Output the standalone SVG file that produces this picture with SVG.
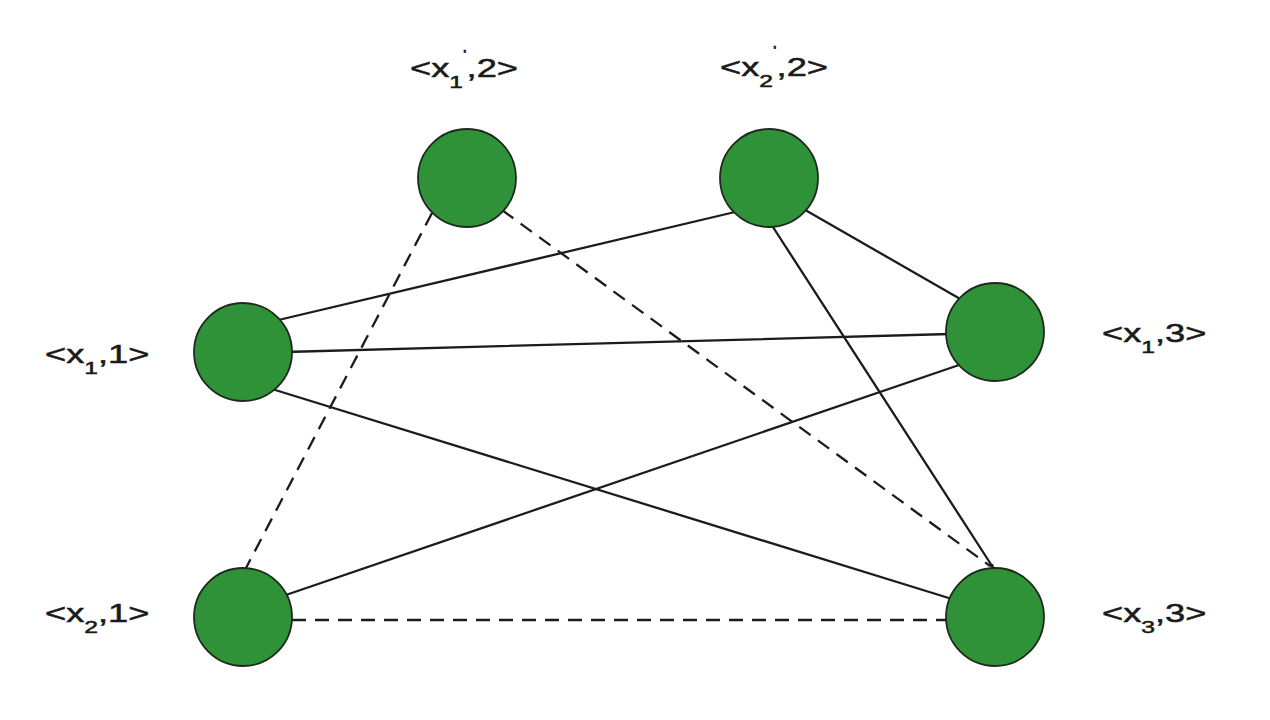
<svg xmlns="http://www.w3.org/2000/svg" width="1270" height="720" viewBox="0 0 1270 720">
  <style>
    .edge { stroke: #1c1c1c; stroke-width: 2.3; fill: none; stroke-linecap: round; }
    .dash { stroke-dasharray: 14 9; stroke-linecap: butt; }
    .node { fill: #2f9138; stroke: #1f2a1f; stroke-width: 1.8; }
    .lbl { font-family: "Liberation Sans", Arial, sans-serif; font-size: 25px; fill: #1a1a1a; stroke: #1a1a1a; stroke-width: 0.5; }
    .sub { font-size: 17px; }
    .pr { font-size: 13px; }
  </style>
  <defs>
    <marker id="arrow" viewBox="0 0 10 10" refX="9" refY="5" markerWidth="6" markerHeight="6" orient="auto" markerUnits="userSpaceOnUse">
      <path d="M0,1 L10,5 L0,9 z" fill="#1c1c1c"/>
    </marker>
  </defs>
  <rect width="1270" height="720" fill="#ffffff"/>
  <g id="connectors">
    <line class="edge" x1="270" y1="322" x2="735" y2="212"/>
    <line class="edge" x1="285" y1="352" x2="950" y2="334"/>
    <line class="edge" x1="272" y1="389" x2="952" y2="599"/>
    <line class="edge" x1="280" y1="597" x2="962" y2="364"/>
    <line class="edge" x1="800" y1="207" x2="962" y2="300"/>
    <line class="edge" x1="771" y1="224" x2="994" y2="569" marker-end="url(#arrow)"/>
    <line class="edge dash" x1="432" y1="213" x2="246" y2="568"/>
    <line class="edge dash" x1="502" y1="210" x2="990" y2="566"/>
    <line class="edge dash" x1="292" y1="620" x2="946" y2="620"/>
  </g>
  <g id="n_x1p_2">
    <circle class="node" cx="467" cy="178" r="49"/>
    <text class="lbl" transform="translate(410,77) scale(1.45,1)">&lt;x<tspan class="sub" dy="11">1</tspan><tspan class="pr" dy="-29">'</tspan><tspan dy="18">,2&gt;</tspan></text>
  </g>
  <g id="n_x2p_2">
    <circle class="node" cx="769" cy="178" r="49"/>
    <text class="lbl" transform="translate(720,76) scale(1.45,1)">&lt;x<tspan class="sub" dy="11">2</tspan><tspan class="pr" dy="-32">'</tspan><tspan dy="21">,2&gt;</tspan></text>
  </g>
  <g id="n_x1_1">
    <circle class="node" cx="243" cy="352" r="49"/>
    <text class="lbl" transform="translate(45,363) scale(1.45,1)">&lt;x<tspan class="sub" dy="11">1</tspan><tspan dy="-11">,1&gt;</tspan></text>
  </g>
  <g id="n_x2_1">
    <circle class="node" cx="243" cy="617" r="49"/>
    <text class="lbl" transform="translate(45,622) scale(1.45,1)">&lt;x<tspan class="sub" dy="11">2</tspan><tspan dy="-11">,1&gt;</tspan></text>
  </g>
  <g id="n_x1_3">
    <circle class="node" cx="995" cy="332" r="49"/>
    <text class="lbl" transform="translate(1102,342) scale(1.45,1)">&lt;x<tspan class="sub" dy="11">1</tspan><tspan dy="-11">,3&gt;</tspan></text>
  </g>
  <g id="n_x3_3">
    <circle class="node" cx="995" cy="617" r="49"/>
    <text class="lbl" transform="translate(1102,622) scale(1.45,1)">&lt;x<tspan class="sub" dy="11">3</tspan><tspan dy="-11">,3&gt;</tspan></text>
  </g>
</svg>
